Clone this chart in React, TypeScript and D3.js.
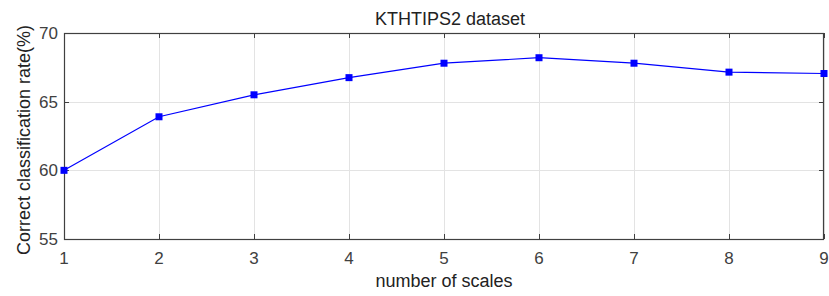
import React, { useRef, useEffect } from 'react';
import * as d3 from 'd3';

const scales = [1, 2, 3, 4, 5, 6, 7, 8, 9];
const rates = [60.0, 63.9, 65.5, 66.75, 67.8, 68.2, 67.8, 67.15, 67.05];
const yTicks = [55, 60, 65, 70];

function App() {
  const ref = useRef<SVGSVGElement>(null);

  useEffect(() => {
    if (!ref.current) return;
    const svg = d3.select(ref.current);
    svg.selectAll('*').remove();

    const width = 829;
    const height = 296;
    const margin = { top: 33, right: 5, bottom: 57, left: 64 };
    const font = 'Liberation Sans, Arial, sans-serif';
    const axisColor = '#404040';

    const x = d3.scaleLinear().domain([1, 9]).range([margin.left, width - margin.right]);
    const y = d3.scaleLinear().domain([55, 70]).range([height - margin.bottom, margin.top]);

    svg.append('rect').attr('width', width).attr('height', height).attr('fill', 'white');

    // grid
    const grid = svg.append('g').attr('stroke', '#e3e3e3').attr('stroke-width', 1);
    scales.forEach(s => {
      grid.append('line')
        .attr('x1', Math.round(x(s)) + 0.5).attr('x2', Math.round(x(s)) + 0.5)
        .attr('y1', y(70)).attr('y2', y(55));
    });
    yTicks.forEach(t => {
      grid.append('line')
        .attr('x1', x(1)).attr('x2', x(9))
        .attr('y1', Math.round(y(t)) + 0.5).attr('y2', Math.round(y(t)) + 0.5);
    });

    // inward ticks on all four sides
    const tickLen = 5;
    const ticks = svg.append('g').attr('stroke', axisColor).attr('stroke-width', 1);
    scales.forEach(s => {
      const xx = Math.round(x(s)) + 0.5;
      ticks.append('line').attr('x1', xx).attr('x2', xx).attr('y1', y(55)).attr('y2', y(55) - tickLen);
      ticks.append('line').attr('x1', xx).attr('x2', xx).attr('y1', y(70)).attr('y2', y(70) + tickLen);
    });
    yTicks.forEach(t => {
      const yy = Math.round(y(t)) + 0.5;
      ticks.append('line').attr('x1', x(1)).attr('x2', x(1) + tickLen).attr('y1', yy).attr('y2', yy);
      ticks.append('line').attr('x1', x(9)).attr('x2', x(9) - tickLen).attr('y1', yy).attr('y2', yy);
    });

    // box
    svg.append('rect')
      .attr('x', x(1) + 0.5).attr('y', y(70) + 0.5)
      .attr('width', x(9) - x(1) - 1).attr('height', y(55) - y(70))
      .attr('fill', 'none').attr('stroke', axisColor).attr('stroke-width', 1.2);

    // tick labels
    svg.append('g').selectAll('text').data(scales).enter().append('text')
      .attr('x', d => x(d)).attr('y', y(55) + 25)
      .attr('text-anchor', 'middle')
      .attr('font-family', font).attr('font-size', 17).attr('fill', '#404040')
      .text(d => d);
    svg.append('g').selectAll('text').data(yTicks).enter().append('text')
      .attr('x', x(1) - 6).attr('y', d => y(d) + 6)
      .attr('text-anchor', 'end')
      .attr('font-family', font).attr('font-size', 17).attr('fill', '#404040')
      .text(d => d);

    // line + markers
    const line = d3.line<number>().x((_, i) => x(scales[i])).y(d => y(d));
    svg.append('path').datum(rates)
      .attr('d', line).attr('fill', 'none').attr('stroke', '#0000ff').attr('stroke-width', 1.2);
    svg.append('g').selectAll('rect').data(rates).enter().append('rect')
      .attr('x', (_, i) => x(scales[i]) - 3.5).attr('y', d => y(d) - 3.5)
      .attr('width', 7).attr('height', 7).attr('fill', '#0000ff');

    // labels
    svg.append('text')
      .attr('x', (x(1) + x(9)) / 2 + 6).attr('y', 25)
      .attr('text-anchor', 'middle')
      .attr('font-family', font).attr('font-size', 18).attr('fill', '#222')
      .text('KTHTIPS2 dataset');
    svg.append('text')
      .attr('x', (x(1) + x(9)) / 2).attr('y', 287)
      .attr('text-anchor', 'middle')
      .attr('font-family', font).attr('font-size', 18).attr('fill', '#222')
      .text('number of scales');
    svg.append('text')
      .attr('transform', `translate(30, ${(y(55) + y(70)) / 2 + 4}) rotate(-90)`)
      .attr('text-anchor', 'middle')
      .attr('font-family', font).attr('font-size', 18).attr('fill', '#222')
      .text('Correct classification rate(%)');
  }, []);

  return (
    <svg
      ref={ref}
      width={829}
      height={296}
      style={{ display: 'block', position: 'absolute', left: 0, top: 0 }}
    />
  );
}

export default App;
